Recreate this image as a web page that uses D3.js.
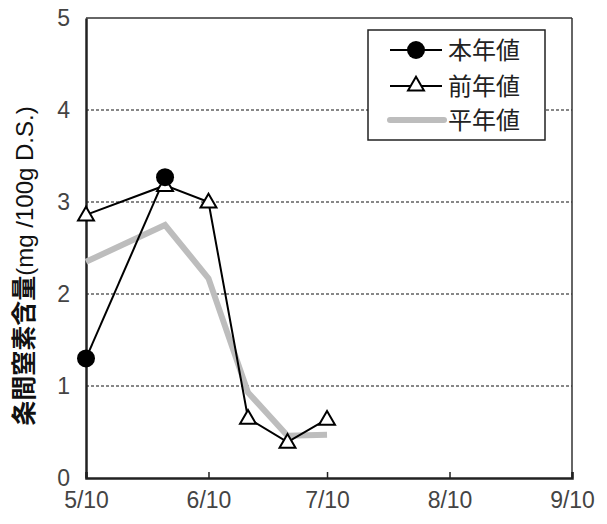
<!DOCTYPE html>
<html><head><meta charset="utf-8">
<script src="https://cdn.jsdelivr.net/npm/d3@7/dist/d3.min.js"></script>
<style>body{margin:0;background:#fff}</style>
</head><body>
<svg id="c" width="607" height="524"></svg>
<script>
const dates = ["2000-05-10","2000-05-30","2000-06-10","2000-06-20","2000-06-30","2000-07-10"];
const honnen = [1.3, 3.27, null, null, null, null];
const zennen = [2.86, 3.18, 3.0, 0.65, 0.39, 0.64];
const heinen = [2.35, 2.75, 2.17, 0.93, 0.46, 0.47];
const xTickLabels = ["5/10","6/10","7/10","8/10","9/10"];
const xTickDates = ["2000-05-10","2000-06-10","2000-07-10","2000-08-10","2000-09-10"];
const yTicks = [0,1,2,3,4,5];
const legendLabels = ["本年値","前年値","平年値"];
const yTitleMain = "条間窒素含量";
const yTitleUnit = "(mg /100g D.S.)";

const parse = d3.timeParse("%Y-%m-%d");
const svg = d3.select("#c");
const L=86, R=572, T=18, B=478;
const x = d3.scaleTime().domain([parse(xTickDates[0]), parse(xTickDates[4])]).range([L,R]);
const y = d3.scaleLinear().domain([0,5]).range([B,T]);
const font = "'Liberation Sans', Arial, sans-serif";

// gridlines
svg.append("g").selectAll("line").data([1,2,3,4]).join("line")
  .attr("x1",L).attr("x2",R).attr("y1",d=>y(d)).attr("y2",d=>y(d))
  .attr("stroke","#111").attr("stroke-width",1).attr("stroke-dasharray","3,2");

// frame
svg.append("line").attr("x1",L).attr("x2",R).attr("y1",T).attr("y2",T).attr("stroke","#333").attr("stroke-width",1.5);
svg.append("line").attr("x1",R).attr("x2",R).attr("y1",T).attr("y2",B).attr("stroke","#333").attr("stroke-width",1.5);

// axes
const xAxis = d3.axisBottom(x).tickValues(xTickDates.map(parse)).tickSize(-6).tickPadding(14)
  .tickFormat((d,i)=>xTickLabels[i]);
const gx = svg.append("g").attr("transform",`translate(0,${B})`).call(xAxis);
gx.select(".domain").attr("stroke","#222").attr("stroke-width",2.5);
gx.selectAll(".tick line").attr("stroke","#222").attr("stroke-width",1.5);
gx.selectAll("text").attr("font-family",font).attr("font-size",23).attr("fill","#444");

const yAxis = d3.axisLeft(y).tickValues(yTicks).tickSize(0).tickPadding(16).tickFormat(d3.format("d"));
const gy = svg.append("g").attr("transform",`translate(${L},0)`).call(yAxis);
gy.select(".domain").attr("stroke","#222").attr("stroke-width",2.5);
gy.selectAll("text").attr("font-family",font).attr("font-size",23).attr("fill","#444");

// y label
const yt = svg.append("text").attr("transform",`translate(33,266) rotate(-90)`)
  .attr("text-anchor","middle").attr("fill","#111");
yt.append("tspan").attr("font-family","'Noto Sans CJK JP', sans-serif")
  .attr("font-size",25).attr("font-weight","bold").text(yTitleMain);
yt.append("tspan").attr("font-family",font).attr("font-size",24).text(yTitleUnit);

const mk = arr => dates.map((d,i)=>({x:parse(d), y:arr[i]})).filter(p=>p.y!==null);
const line = d3.line().x(d=>x(d.x)).y(d=>y(d.y));

// normal year
svg.append("path").datum(mk(heinen)).attr("d",line).attr("fill","none")
  .attr("stroke","#bdbdbd").attr("stroke-width",6).attr("stroke-linejoin","miter");

// previous year
svg.append("path").datum(mk(zennen)).attr("d",line).attr("fill","none").attr("stroke","#000").attr("stroke-width",2);
// this year
svg.append("path").datum(mk(honnen)).attr("d",line).attr("fill","none").attr("stroke","#000").attr("stroke-width",2);

const tri = d3.symbol().type(d3.symbolTriangle).size(110);
svg.append("g").selectAll("path").data(mk(zennen)).join("path")
  .attr("d",tri).attr("transform",d=>`translate(${x(d.x)},${y(d.y)+1})`)
  .attr("fill","#fff").attr("stroke","#000").attr("stroke-width",2);
svg.append("g").selectAll("circle").data(mk(honnen)).join("circle")
  .attr("cx",d=>x(d.x)).attr("cy",d=>y(d.y)).attr("r",9).attr("fill","#000");

// legend
const lg = svg.append("g");
lg.append("rect").attr("x",368).attr("y",30).attr("width",177).attr("height",110)
  .attr("fill","#fff").attr("stroke","#222").attr("stroke-width",1.5);
const rows = [50,86,120];
legendLabels.forEach((t,i)=>{
  const yy = rows[i];
  if(i<2){
    lg.append("line").attr("x1",390).attr("x2",442).attr("y1",yy).attr("y2",yy).attr("stroke","#000").attr("stroke-width",2);
  } else {
    lg.append("line").attr("x1",390).attr("x2",444).attr("y1",yy).attr("y2",yy).attr("stroke","#bdbdbd").attr("stroke-width",6).attr("stroke-linecap","round");
  }
  if(i===0) lg.append("circle").attr("cx",416).attr("cy",yy).attr("r",9).attr("fill","#000");
  if(i===1) lg.append("path").attr("d",tri).attr("transform",`translate(416,${yy})`).attr("fill","#fff").attr("stroke","#000").attr("stroke-width",2);
  lg.append("text").attr("x",448).attr("y",yy).attr("dy","0.36em")
    .attr("font-family","'Noto Sans CJK JP', sans-serif").attr("font-size",24).attr("fill","#222").text(t);
});
</script>
</body></html>
